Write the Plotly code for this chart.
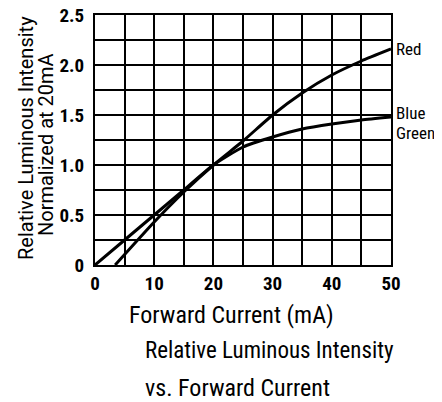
import plotly.graph_objects as go

# Courant direct (mA) et intensité relative
courant = [0, 5, 10, 15, 20, 25, 30, 35, 40, 45, 50]
bleu_vert = [0, 0.25, 0.5, 0.75, 1.0, 1.18, 1.28, 1.36, 1.41, 1.45, 1.48]

courant_rouge = [3.4, 10, 15, 20, 25, 30, 35, 40, 45, 50]
rouge = [0, 0.43, 0.73, 1.0, 1.24, 1.5, 1.72, 1.9, 2.04, 2.16]

x_ticks = [0, 10, 20, 30, 40, 50]
y_ticks = [0, 0.5, 1.0, 1.5, 2.0, 2.5]
y_labels = ["0", "0.5", "1.0", "1.5", "2.0", "2.5"]

COND = "Roboto Condensed"
REG = "Roboto"

# la page a une marge de 8 px autour de la figure
OFF = 8
W, H = 442 - OFF, 402 - OFF
# Zone de tracé dans l'image de référence (pixels)
X0, X1, Y0, Y1 = 95, 391, 15, 265


def px(x):
    return (x - X0) / (X1 - X0)


def py(y):
    return (Y1 - y) / (Y1 - Y0)


fig = go.Figure()

fig.add_trace(go.Scatter(
    x=courant, y=bleu_vert, mode="lines", name="Blue Green",
    line=dict(color="black", width=3, shape="spline", smoothing=0.5),
    showlegend=False
))
fig.add_trace(go.Scatter(
    x=courant_rouge, y=rouge, mode="lines", name="Red",
    line=dict(color="black", width=3, shape="spline", smoothing=0.5),
    showlegend=False
))

# Étiquettes des courbes, au bout de chaque courbe
fig.add_annotation(x=courant_rouge[-1], y=rouge[-1], text="Red", showarrow=False,
                   xanchor="left", yanchor="middle", xshift=3, yshift=0,
                   font=dict(family=COND, size=17, color="black"))
fig.add_annotation(x=courant[-1], y=bleu_vert[-1], text="Blue", showarrow=False,
                   xanchor="left", yanchor="middle", xshift=3, yshift=4,
                   font=dict(family=COND, size=17, color="black"))
fig.add_annotation(x=courant[-1], y=bleu_vert[-1], text="Green", showarrow=False,
                   xanchor="left", yanchor="middle", xshift=3, yshift=-16,
                   font=dict(family=COND, size=17, color="black"))

# Titre de l'axe y, deux lignes
fig.add_annotation(xref="paper", yref="paper", x=px(26), y=py(138),
                   text="Relative Luminous Intensity", showarrow=False, textangle=-90,
                   xanchor="center", yanchor="middle",
                   font=dict(family=REG, size=20, color="black"))
fig.add_annotation(xref="paper", yref="paper", x=px(46), y=py(145),
                   text="Normalized at 20mA", showarrow=False, textangle=-90,
                   xanchor="center", yanchor="middle",
                   font=dict(family=REG, size=20, color="black"))

# Titre de l'axe x et légende sous le graphique
fig.add_annotation(xref="paper", yref="paper", x=px(231), y=py(315),
                   text="Forward Current (mA)", showarrow=False,
                   xanchor="center", yanchor="middle",
                   font=dict(family=COND, size=24, color="black"))
fig.add_annotation(xref="paper", yref="paper", x=px(143), y=py(351),
                   text="Relative Luminous Intensity", showarrow=False,
                   xanchor="left", yanchor="middle",
                   font=dict(family=COND, size=23, color="black"))
fig.add_annotation(xref="paper", yref="paper", x=px(143), y=py(388),
                   text="vs. Forward Current", showarrow=False,
                   xanchor="left", yanchor="middle",
                   font=dict(family=COND, size=24, color="black"))

fig.update_xaxes(
    range=[0, 50], tickvals=x_ticks, automargin=False,
    showgrid=True, gridcolor="black", gridwidth=1.6,
    minor=dict(dtick=5, showgrid=True, gridcolor="black", gridwidth=1.6),
    showline=True, linecolor="black", linewidth=2, mirror=True,
    zeroline=False, ticks="", ticklen=0, ticklabelstandoff=0,
    ticklabeloverflow="allow",
    tickfont=dict(family=COND, size=19, color="black", weight="bold")
)
fig.update_yaxes(
    range=[0, 2.5], tickvals=y_ticks, ticktext=y_labels, automargin=False,
    showgrid=True, gridcolor="black", gridwidth=1.6,
    minor=dict(dtick=0.25, showgrid=True, gridcolor="black", gridwidth=1.6),
    showline=True, linecolor="black", linewidth=2, mirror=True,
    zeroline=False, ticks="", ticklen=0, ticklabelstandoff=5,
    ticklabeloverflow="allow",
    tickfont=dict(family=COND, size=19, color="black", weight="bold")
)

fig.update_layout(
    width=W, height=H,
    margin=dict(l=X0 - OFF, r=442 - X1, t=Y0 - OFF, b=402 - Y1),
    plot_bgcolor="white", paper_bgcolor="white",
    showlegend=False
)

fig.write_html("out.html")
